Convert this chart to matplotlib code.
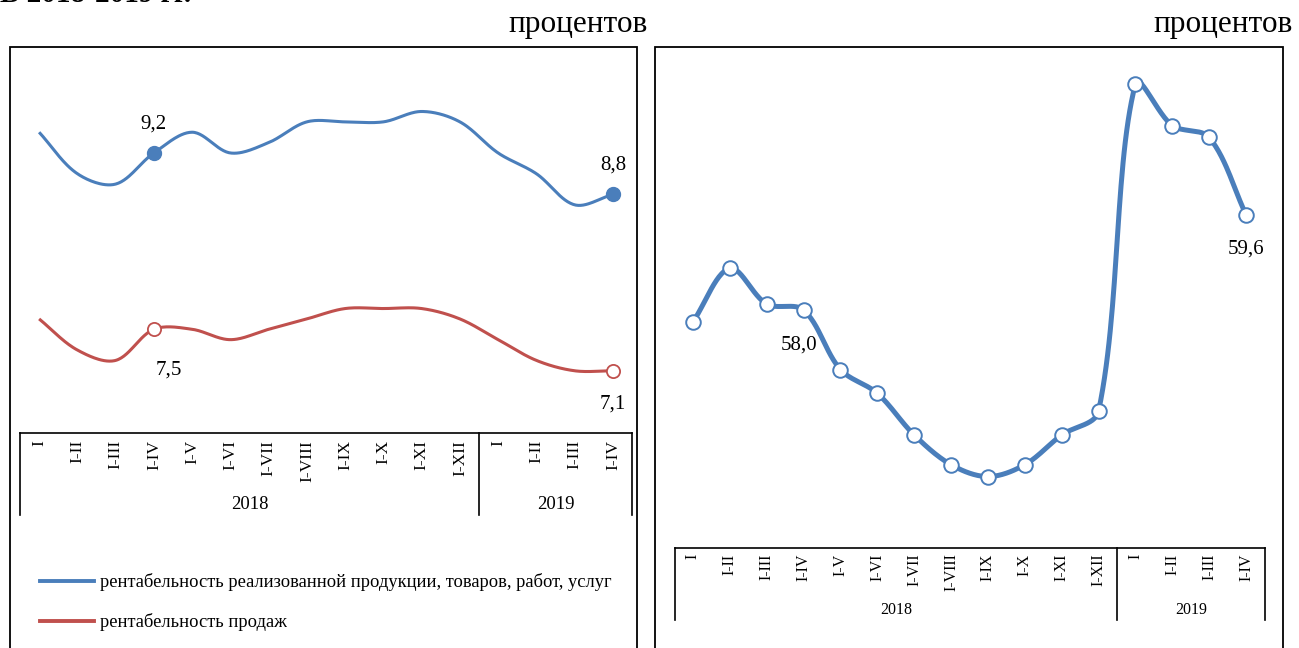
import numpy as np
import matplotlib.pyplot as plt
from matplotlib.patches import Rectangle
from matplotlib.lines import Line2D

plt.rcParams['font.family'] = ['Liberation Serif', 'DejaVu Serif']

# периоды (нарастающим итогом)
periods = ['I', 'I-II', 'I-III', 'I-IV', 'I-V', 'I-VI', 'I-VII', 'I-VIII',
           'I-IX', 'I-X', 'I-XI', 'I-XII', 'I', 'I-II', 'I-III', 'I-IV']
years = ['2018', '2019']
n_2018 = 12

# левый график
rent_prod = [9.4, 9.0, 8.9, 9.2, 9.4, 9.2, 9.3, 9.5, 9.5, 9.5, 9.6, 9.5,
             9.2, 9.0, 8.7, 8.8]
rent_sales = [7.6, 7.3, 7.2, 7.5, 7.5, 7.4, 7.5, 7.6, 7.7, 7.7, 7.7, 7.6,
              7.4, 7.2, 7.1, 7.1]
legend_labels = ['рентабельность реализованной продукции, товаров, работ, услуг',
                 'рентабельность продаж']

# правый график
right_vals = [57.8, 58.7, 58.1, 58.0, 57.0, 56.6, 55.9, 55.4, 55.2, 55.4,
              55.9, 56.3, 61.8, 61.1, 60.9, 59.6]

BLUE = '#4a7ebb'
RED = '#c0504d'
W, H = 1299, 648


def smooth(ax, ys, steps=30):
    # сглаживание примерно как в Excel: Безье, плечи касательных
    # пропорциональны длинам соседних отрезков (в пикселях)
    xs = np.arange(len(ys), dtype=float)
    pts = ax.transData.transform(np.column_stack([xs, ys]))
    n = len(pts)
    t = np.linspace(0, 1, steps)
    out = []
    for i in range(n - 1):
        p0, p3 = pts[i], pts[i + 1]
        d = np.linalg.norm(p3 - p0)
        if i == 0:
            c1 = p0 + (p3 - p0) / 3
        else:
            pm = pts[i - 1]
            dm = np.linalg.norm(p0 - pm)
            c1 = p0 + (p3 - pm) * d / (dm + d) / 3
        if i + 2 >= n:
            c2 = p3 - (p3 - p0) / 3
        else:
            pp = pts[i + 2]
            dp = np.linalg.norm(pp - p3)
            c2 = p3 - (pp - p0) * d / (d + dp) / 3
        b = ((1 - t) ** 3)[:, None] * p0 + (3 * (1 - t) ** 2 * t)[:, None] * c1 \
            + (3 * (1 - t) * t ** 2)[:, None] * c2 + (t ** 3)[:, None] * p3
        out.append(b)
    out = ax.transData.inverted().transform(np.vstack(out))
    return out[:, 0], out[:, 1]


def category_axis(ax, tick_fs, year_fs, sep_depth, year_y, pad):
    x = np.arange(len(periods))
    ax.set_xlim(-0.5, len(periods) - 0.5)
    ax.set_xticks(x)
    ax.set_xticklabels(periods, rotation=90, fontsize=tick_fs)
    ax.tick_params(axis='x', length=0, pad=pad)
    ax.set_yticks([])
    for s in ['top', 'left', 'right']:
        ax.spines[s].set_visible(False)
    ax.spines['bottom'].set_linewidth(1.2)
    tr = ax.get_xaxis_transform()
    for xv in [-0.5, n_2018 - 0.5, len(periods) - 0.5]:
        ax.plot([xv, xv], [0, -sep_depth], transform=tr, color='black',
                lw=1.2, clip_on=False)
    ax.text((n_2018 - 1) / 2, -year_y, years[0], transform=tr, ha='center',
            va='center', fontsize=year_fs)
    ax.text((n_2018 + len(periods) - 1) / 2, -year_y, years[1], transform=tr,
            ha='center', va='center', fontsize=year_fs)


def fmt(v):
    return f'{v:.1f}'.replace('.', ',')


fig = plt.figure(figsize=(W / 100, H / 100), dpi=100)

# рамки графиков
fig.patches.append(Rectangle((10 / W, -0.05), 627 / W, 0.05 + 1 - 47 / H,
                             transform=fig.transFigure, fill=False,
                             ec='black', lw=1.3))
fig.patches.append(Rectangle((655 / W, -0.05), 628 / W, 0.05 + 1 - 47 / H,
                             transform=fig.transFigure, fill=False,
                             ec='black', lw=1.3))

# заголовок обрезан сверху, как на исходной картинке
fig.text(0.0, 1 - 2 / H, 'В 2018-2019 гг.', fontsize=21, fontweight='bold',
         va='baseline', ha='left')
fig.text(648 / W, 1 - 32 / H, 'процентов', fontsize=22.5, ha='right',
         va='baseline')
fig.text(1293 / W, 1 - 32 / H, 'процентов', fontsize=22.5, ha='right',
         va='baseline')

# ---- левый график ----
ax1 = fig.add_axes([20 / W, 1 - 433 / H, 612 / W, 363 / H])
ax1.set_ylim(6.5, 10.0)
category_axis(ax1, 12.5, 13.5, 0.226, 0.198, 5)

sx, sy = smooth(ax1, rent_prod)
ax1.plot(sx, sy, color=BLUE, lw=2.2, solid_capstyle='butt')
sx, sy = smooth(ax1, rent_sales)
ax1.plot(sx, sy, color=RED, lw=2.2, solid_capstyle='butt')

for i in [3, len(periods) - 1]:
    ax1.plot(i, rent_prod[i], 'o', ms=10, color=BLUE, mec=BLUE)
    ax1.plot(i, rent_sales[i], 'o', ms=9.5, mfc='white', mec=RED, mew=1.3)

ax1.annotate(fmt(rent_prod[3]), (3, rent_prod[3]), xytext=(0, 21),
             textcoords='offset points', ha='center', va='center', fontsize=15)
ax1.annotate(fmt(rent_prod[-1]), (15, rent_prod[-1]), xytext=(0, 21),
             textcoords='offset points', ha='center', va='center', fontsize=15)
ax1.annotate(fmt(rent_sales[3]), (3, rent_sales[3]), xytext=(11, -29),
             textcoords='offset points', ha='center', va='center', fontsize=15)
ax1.annotate(fmt(rent_sales[-1]), (15, rent_sales[-1]), xytext=(0, -24),
             textcoords='offset points', ha='center', va='center', fontsize=15)

handles = [Line2D([], [], color=BLUE, lw=2.8), Line2D([], [], color=RED, lw=2.8)]
fig.legend(handles, legend_labels, loc='upper left',
           bbox_to_anchor=(40 / W, 1 - 573 / H), frameon=False, fontsize=13.3,
           handlelength=2.95, handletextpad=0.3, labelspacing=1.2,
           borderpad=0, borderaxespad=0)

# ---- правый график ----
ax2 = fig.add_axes([674.5 / W, 1 - 548 / H, 590 / W, 476 / H])
ax2.set_ylim(54.0, 62.0)
category_axis(ax2, 11.5, 11.5, 0.151, 0.130, 4)

sx, sy = smooth(ax2, right_vals)
ax2.plot(sx, sy, color=BLUE, lw=3.6, solid_capstyle='butt')
ax2.plot(np.arange(len(periods)), right_vals, 'o', ms=10.5, mfc='white',
         mec=BLUE, mew=1.4, ls='none')
ax2.annotate(fmt(right_vals[3]), (3, right_vals[3]), xytext=(-3, -25),
             textcoords='offset points', ha='center', va='center', fontsize=15)
ax2.annotate(fmt(right_vals[-1]), (15, right_vals[-1]), xytext=(0, -25),
             textcoords='offset points', ha='center', va='center', fontsize=15)

fig.savefig('out.png', dpi=100)
